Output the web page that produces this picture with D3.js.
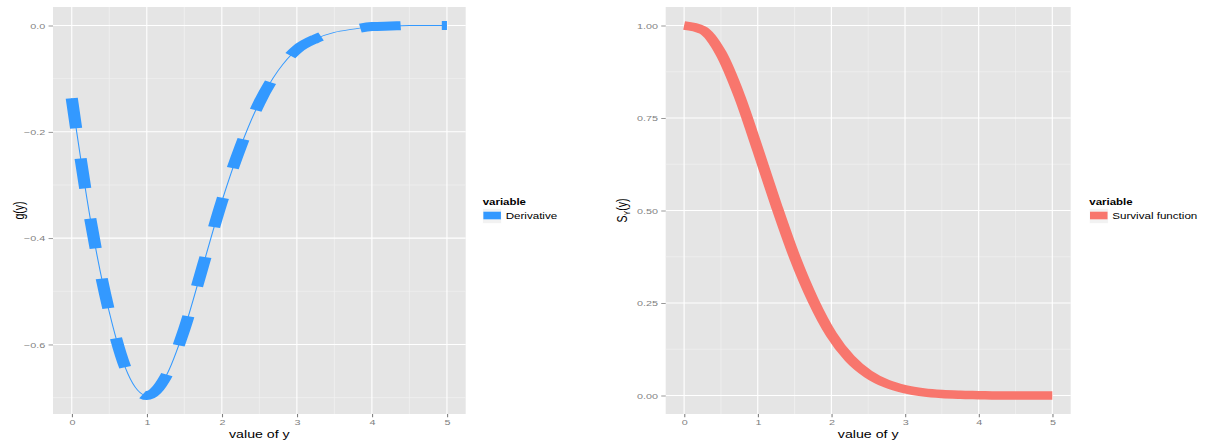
<!DOCTYPE html>
<html>
<head>
<meta charset="utf-8">
<script src="https://cdn.jsdelivr.net/npm/d3@7"></script>
<style>
  html, body { margin: 0; padding: 0; background: #ffffff; }
  svg { display: block; }
  text { font-family: "Liberation Sans", Arial, Helvetica, sans-serif; }
</style>
</head>
<body>
<svg id="chart"></svg>
<script>
// ---------- data ----------
const yGrid = [0, 0.25, 0.5, 0.75, 1, 1.25, 1.5, 1.75, 2, 2.25, 2.5, 2.75, 3, 3.25, 3.5, 3.75, 4, 4.25, 4.5, 4.75, 5];
const derivative = [-0.137, -0.366, -0.539, -0.656, -0.696, -0.661, -0.571, -0.451, -0.331, -0.228, -0.145, -0.085, -0.045, -0.025, -0.013, -0.007, -0.002, -0.001, 0, 0, 0];
const survival = [1.000, 0.988, 0.925, 0.810, 0.665, 0.515, 0.375, 0.258, 0.165, 0.100, 0.058, 0.032, 0.017, 0.0085, 0.004, 0.002, 0.001, 0, 0, 0, 0];
const xTicks = [0, 1, 2, 3, 4, 5];
const xMinor = [0.5, 1.5, 2.5, 3.5, 4.5];
const gTicks = [0, -0.2, -0.4, -0.6];
const gMinor = [-0.1, -0.3, -0.5, -0.7];
const sTicks = [0, 0.25, 0.5, 0.75, 1];
const sMinor = [0.125, 0.375, 0.625, 0.875];
const legendTitle = "variable";
const seriesNames = ["Derivative", "Survival function"];
const seriesColors = ["#3399FF", "#F8766D"];
const xTitle = "value of y";

// ---------- layout ----------
const W = 1206, H = 442, SX = 1.35;      // picture is horizontally stretched
const VW = W / SX;
const svg = d3.select("#chart").attr("width", W).attr("height", H)
  .attr("viewBox", `0 0 ${VW} ${H}`).attr("preserveAspectRatio", "none");

const panels = [
  { x0: 53 / SX, x1: 465.7 / SX, data: derivative, ticks: gTicks, minor: gMinor, fmt: d3.format(".1f"), legX: 482.7 / SX },
  { x0: 665.7 / SX, x1: 1070.7 / SX, data: survival, ticks: sTicks, minor: sMinor, fmt: d3.format(".2f"), legX: 1089.3 / SX }
];
const pTop = 7, pBottom = 414;

panels.forEach((p, i) => {
  const ext = d3.extent(p.data);
  const pad = (ext[1] - ext[0]) * 0.05;
  const x = d3.scaleLinear().domain([-0.25, 5.25]).range([p.x0, p.x1]);
  const y = d3.scaleLinear().domain([ext[0] - pad, ext[1] + pad]).range([pBottom, pTop]);
  const g = svg.append("g");

  g.append("rect").attr("x", p.x0).attr("y", pTop).attr("width", p.x1 - p.x0).attr("height", pBottom - pTop).attr("fill", "#e5e5e5");
  // minor grid
  g.selectAll(".mx").data(xMinor).join("line").attr("x1", d => x(d)).attr("x2", d => x(d)).attr("y1", pTop).attr("y2", pBottom)
    .attr("stroke", "#f2f2f2").attr("stroke-width", 0.55);
  g.selectAll(".my").data(p.minor).join("line").attr("y1", d => y(d)).attr("y2", d => y(d)).attr("x1", p.x0).attr("x2", p.x1)
    .attr("stroke", "#f2f2f2").attr("stroke-width", 0.55);
  // major grid
  g.selectAll(".gx").data(xTicks).join("line").attr("x1", d => x(d)).attr("x2", d => x(d)).attr("y1", pTop).attr("y2", pBottom)
    .attr("stroke", "#ffffff").attr("stroke-width", 0.85);
  g.selectAll(".gy").data(p.ticks).join("line").attr("y1", d => y(d)).attr("y2", d => y(d)).attr("x1", p.x0).attr("x2", p.x1)
    .attr("stroke", "#ffffff").attr("stroke-width", 1.1);

  // axes
  const xa = g.append("g").attr("transform", `translate(0,${pBottom})`)
    .call(d3.axisBottom(x).tickValues(xTicks).tickSize(3.3).tickPadding(2).tickFormat(d3.format("d")));
  const ya = g.append("g").attr("transform", `translate(${p.x0},0)`)
    .call(d3.axisLeft(y).tickValues(p.ticks).tickSize(3.3).tickPadding(2.4).tickFormat(p.fmt));
  [xa, ya].forEach(a => {
    a.select(".domain").remove();
    a.selectAll(".tick line").attr("stroke", "#7f7f7f").attr("stroke-width", 0.8);
    a.selectAll(".tick text").attr("fill", "#7f7f7f").attr("font-size", 8).attr("font-family", "Liberation Sans, Arial, sans-serif");
  });

  // lines
  const line = d3.line().x((d, k) => x(yGrid[k])).y(d => y(d)).curve(d3.curveMonotoneX);
  if (i === 0) {
    g.append("path").datum(p.data).attr("d", line).attr("fill", "none")
      .attr("stroke", seriesColors[0]).attr("stroke-width", 0.8);
    g.append("path").datum(p.data).attr("d", line).attr("fill", "none")
      .attr("stroke", seriesColors[0]).attr("stroke-width", 9).attr("stroke-dasharray", "30,30.5").attr("stroke-linecap", "butt");
  } else {
    g.append("path").datum(p.data).attr("d", line).attr("fill", "none")
      .attr("stroke", seriesColors[1]).attr("stroke-width", 8.5).attr("stroke-linecap", "butt");
  }

  // x title
  g.append("text").attr("x", (p.x0 + p.x1) / 2).attr("y", 438).attr("text-anchor", "middle")
    .attr("font-size", 10.5).attr("fill", "#000").text(xTitle);

  // legend
  g.append("text").attr("x", p.legX).attr("y", 205).attr("font-size", 8.5).attr("font-weight", "bold").attr("fill", "#000").text(legendTitle);
  g.append("rect").attr("x", p.legX).attr("y", 208.7).attr("width", 14).attr("height", 14.6)
    .attr("fill", "#f2f2f2").attr("stroke", "#ffffff").attr("stroke-width", 0.5);
  g.append("line").attr("x1", p.legX + 0.5).attr("x2", p.legX + 13.5).attr("y1", 215.5).attr("y2", 215.5)
    .attr("stroke", seriesColors[i]).attr("stroke-width", 7.6);
  g.append("text").attr("x", p.legX + 17).attr("y", 219).attr("font-size", 8.6).attr("fill", "#000").text(seriesNames[i]);
});

// y titles
svg.append("text").attr("transform", `translate(${24 / SX},210.5) rotate(-90)`).attr("text-anchor", "middle")
  .attr("font-size", 10.5).attr("fill", "#000").text("g(y)");
const st = svg.append("text").attr("transform", `translate(${627 / SX},210.5) rotate(-90)`).attr("text-anchor", "middle")
  .attr("font-size", 10.5).attr("fill", "#000");
st.append("tspan").text("S");
st.append("tspan").attr("font-size", 7).attr("dy", 2.5).text("Y");
st.append("tspan").attr("dy", -2.5).text("(y)");
</script>
</body>
</html>
